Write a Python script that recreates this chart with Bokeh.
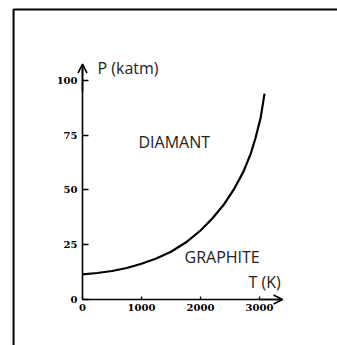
from bokeh.plotting import figure
from bokeh.models import Range1d, LinearAxis, FixedTicker, Label, Arrow, OpenHead, BoxAnnotation
from bokeh.embed import file_html
from bokeh.resources import INLINE

temperature_K = [0, 250, 500, 750, 1000, 1250, 1500, 1750, 2000, 2200, 2400, 2560, 2730, 2850, 2930, 3020, 3085]
pressure_katm = [11.5, 12.1, 13.0, 14.4, 16.3, 18.7, 21.8, 26.0, 31.5, 37.0, 43.5, 50.0, 58.5, 66.5, 73.5, 83.0, 94.0]
x_ticks = [0, 1000, 2000, 3000]
y_ticks = [0, 25, 50, 75, 100]

# page pixel -> data: T = (x-82)/59*1000 ; P = (299-y)/2.19
p = figure(width=337, height=345, output_backend="svg", toolbar_location=None,
           x_axis_location=None, y_axis_location=None,
           x_range=Range1d(-1390, 4322), y_range=Range1d(-21.0, 136.5),
           min_border=0, min_border_left=0, min_border_right=0, min_border_top=0, min_border_bottom=0)
p.outline_line_color = None
p.grid.visible = False
p.background_fill_color = "white"

# outer frame box: only top and left edges fall inside the picture
p.add_layout(BoxAnnotation(left=-1169, top=132.4, right=6000, bottom=-60,
                           fill_alpha=0, line_color="black", line_alpha=1.0, line_width=2))

xa = LinearAxis(fixed_location=0, ticker=FixedTicker(ticks=x_ticks), bounds=(0, 3390))
ya = LinearAxis(fixed_location=0, ticker=FixedTicker(ticks=y_ticks), bounds=(0, 107))
for ax in (xa, ya):
    ax.axis_line_color = "black"
    ax.axis_line_width = 1.6
    ax.major_tick_line_color = "black"
    ax.major_tick_line_width = 1.3
    ax.minor_tick_line_color = None
    ax.major_tick_out = 0
    ax.major_label_text_font = "DejaVu Serif"
    ax.major_label_text_font_style = "bold"
    ax.major_label_text_font_size = "10px"
    ax.major_label_text_color = "black"
xa.major_tick_in = 3
ya.major_tick_in = 6
xa.major_label_standoff = 4
ya.major_label_standoff = 5
p.add_layout(xa, "below")
p.add_layout(ya, "left")

p.add_layout(Arrow(end=OpenHead(size=9, line_width=1.6, line_color="black"), line_width=1.6,
                   x_start=3000, y_start=0, x_end=3390, y_end=0))
p.add_layout(Arrow(end=OpenHead(size=9, line_width=1.6, line_color="black"), line_width=1.6,
                   x_start=0, y_start=95, x_end=0, y_end=107.5))

p.line(temperature_K, pressure_katm, line_color="black", line_width=2.2)

lab = dict(text_font="Open Sans", text_font_size="16px", text_color="#222222", text_baseline="middle")
p.add_layout(Label(x=254, y=105.5, text="P (katm)", **lab))
p.add_layout(Label(x=949, y=71.7, text="DIAMANT", **lab))
p.add_layout(Label(x=1729, y=19.2, text="GRAPHITE", **lab))
p.add_layout(Label(x=2814, y=7.8, text="T (K)", **lab))

open("out.html", "w").write(file_html(p, INLINE))
